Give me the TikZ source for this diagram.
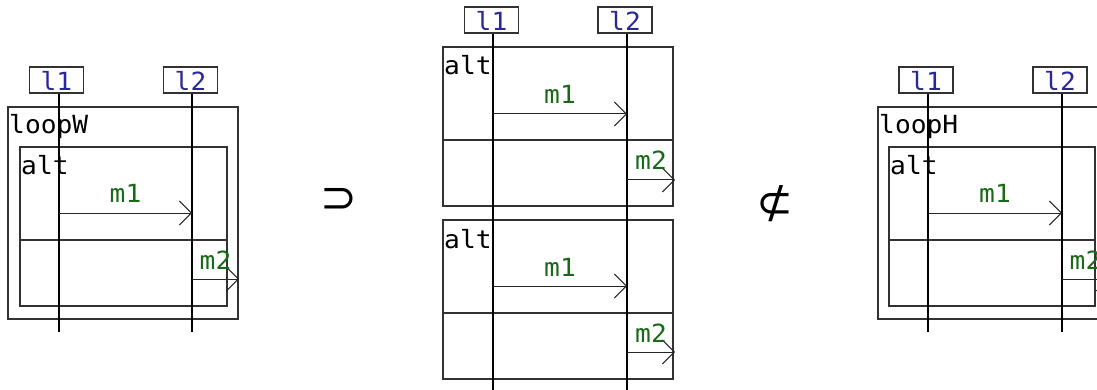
\documentclass[tikz,border=0pt]{standalone}
\usepackage{fontspec}
\newfontfamily\diagmono[FakeStretch=1.05]{DejaVu Sans Mono}
\newfontfamily\symfont{DejaVu Sans}
\usetikzlibrary{arrows.meta}

\definecolor{lifeblue}{RGB}{40,40,150}
\definecolor{msggreen}{RGB}{25,105,25}
\definecolor{framegray}{RGB}{50,50,50}

\tikzset{
  diagtext/.style={font=\fontsize{25}{25}\selectfont\diagmono},
  lifebox/.style={diagtext, draw=framegray, line width=1.2pt, minimum width=54pt, minimum height=26pt,
    inner sep=0.5pt, text height=23pt, text depth=2pt, text=lifeblue},
  lifeline/.style={draw=black, line width=1.3pt},
  frame/.style={draw=framegray, line width=1.3pt},
  framelabel/.style={diagtext, anchor=base west, inner sep=0pt, text=black},
  msg/.style={draw=black!85, line width=1pt,
    -{Straight Barb[length=12pt, width=24pt, line width=1pt]}},
  msglabel/.style={diagtext, midway, anchor=base, yshift=10pt, inner sep=0pt, text=msggreen},
  relsym/.style={inner sep=0pt, font=\fontsize{44}{44}\selectfont\symfont}
}

\begin{document}
\begin{tikzpicture}[x=1pt, y=-1pt]
\useasboundingbox (0,0) rectangle (1097,390);
\clip (0,0) rectangle (1097,390);

% ---------- left: loopW ----------
\draw[frame] (8,107) rectangle (238,319);
\node[framelabel] (lwLoop) at (9,134) {loopW};
\draw[frame] (20,147) rectangle (227,306);
\draw[frame] (20,240) -- (227,240);
\node[framelabel] (lwAlt) at (21,175) {alt};
\node[lifebox] (lwL1) at (56.5,80) {l1};
\node[lifebox] (lwL2) at (190.5,80) {l2};
\coordinate (lwE1) at (59,332);
\coordinate (lwE2) at (192,332);
\draw[lifeline] (lwL1.south -| lwE1) -- (lwE1);
\draw[lifeline] (lwL2.south -| lwE2) -- (lwE2);
\coordinate (lwA1) at (59,213);
\coordinate (lwB1) at (192,213);
\draw[msg] (lwA1) -- node[msglabel] {m1} (lwB1);
\coordinate (lwA2) at (192,279);
\coordinate (lwB2) at (239,279);
\draw[msg] (lwA2) -- node[msglabel] {m2} (lwB2);

% ---------- relation symbol ----------
\node[relsym] (sup) at (339,200) {⊃};

% ---------- middle: two alt fragments ----------
\draw[frame] (443,47) rectangle (673,206);
\draw[frame] (443,140) -- (673,140);
\node[framelabel] (mAltA) at (444,75) {alt};
\draw[frame] (443,220) rectangle (673,379);
\draw[frame] (443,313) -- (673,313);
\node[framelabel] (mAltB) at (444,248) {alt};
\node[lifebox] (mL1) at (491.5,20) {l1};
\node[lifebox] (mL2) at (625,20) {l2};
\coordinate (mE1) at (493,392);
\coordinate (mE2) at (627,392);
\draw[lifeline] (mL1.south -| mE1) -- (mE1);
\draw[lifeline] (mL2.south -| mE2) -- (mE2);
\coordinate (mA1) at (493,114);
\coordinate (mB1) at (627,114);
\draw[msg] (mA1) -- node[msglabel] {m1} (mB1);
\coordinate (mA2) at (627,180);
\coordinate (mB2) at (675,180);
\draw[msg] (mA2) -- node[msglabel] {m2} (mB2);
\coordinate (mA3) at (493,286);
\coordinate (mB3) at (627,286);
\draw[msg] (mA3) -- node[msglabel] {m1} (mB3);
\coordinate (mA4) at (627,352);
\coordinate (mB4) at (675,352);
\draw[msg] (mA4) -- node[msglabel] {m2} (mB4);

% ---------- relation symbol ----------
\node[relsym] (nsub) at (775,204) {⊄};

% ---------- right: loopH ----------
\draw[frame] (878,107) rectangle (1108,319);
\node[framelabel] (rhLoop) at (879,134) {loopH};
\draw[frame] (889,147) rectangle (1095,306);
\draw[frame] (889,240) -- (1095,240);
\node[framelabel] (rhAlt) at (890,175) {alt};
\node[lifebox] (rhL1) at (926,80) {l1};
\node[lifebox] (rhL2) at (1060,80) {l2};
\coordinate (rhE1) at (928,332);
\coordinate (rhE2) at (1062,332);
\draw[lifeline] (rhL1.south -| rhE1) -- (rhE1);
\draw[lifeline] (rhL2.south -| rhE2) -- (rhE2);
\coordinate (rhA1) at (928,213);
\coordinate (rhB1) at (1062,213);
\draw[msg] (rhA1) -- node[msglabel] {m1} (rhB1);
\coordinate (rhA2) at (1062,279);
\coordinate (rhB2) at (1109,279);
\draw[msg] (rhA2) -- node[msglabel] {m2} (rhB2);
\end{tikzpicture}
\end{document}
